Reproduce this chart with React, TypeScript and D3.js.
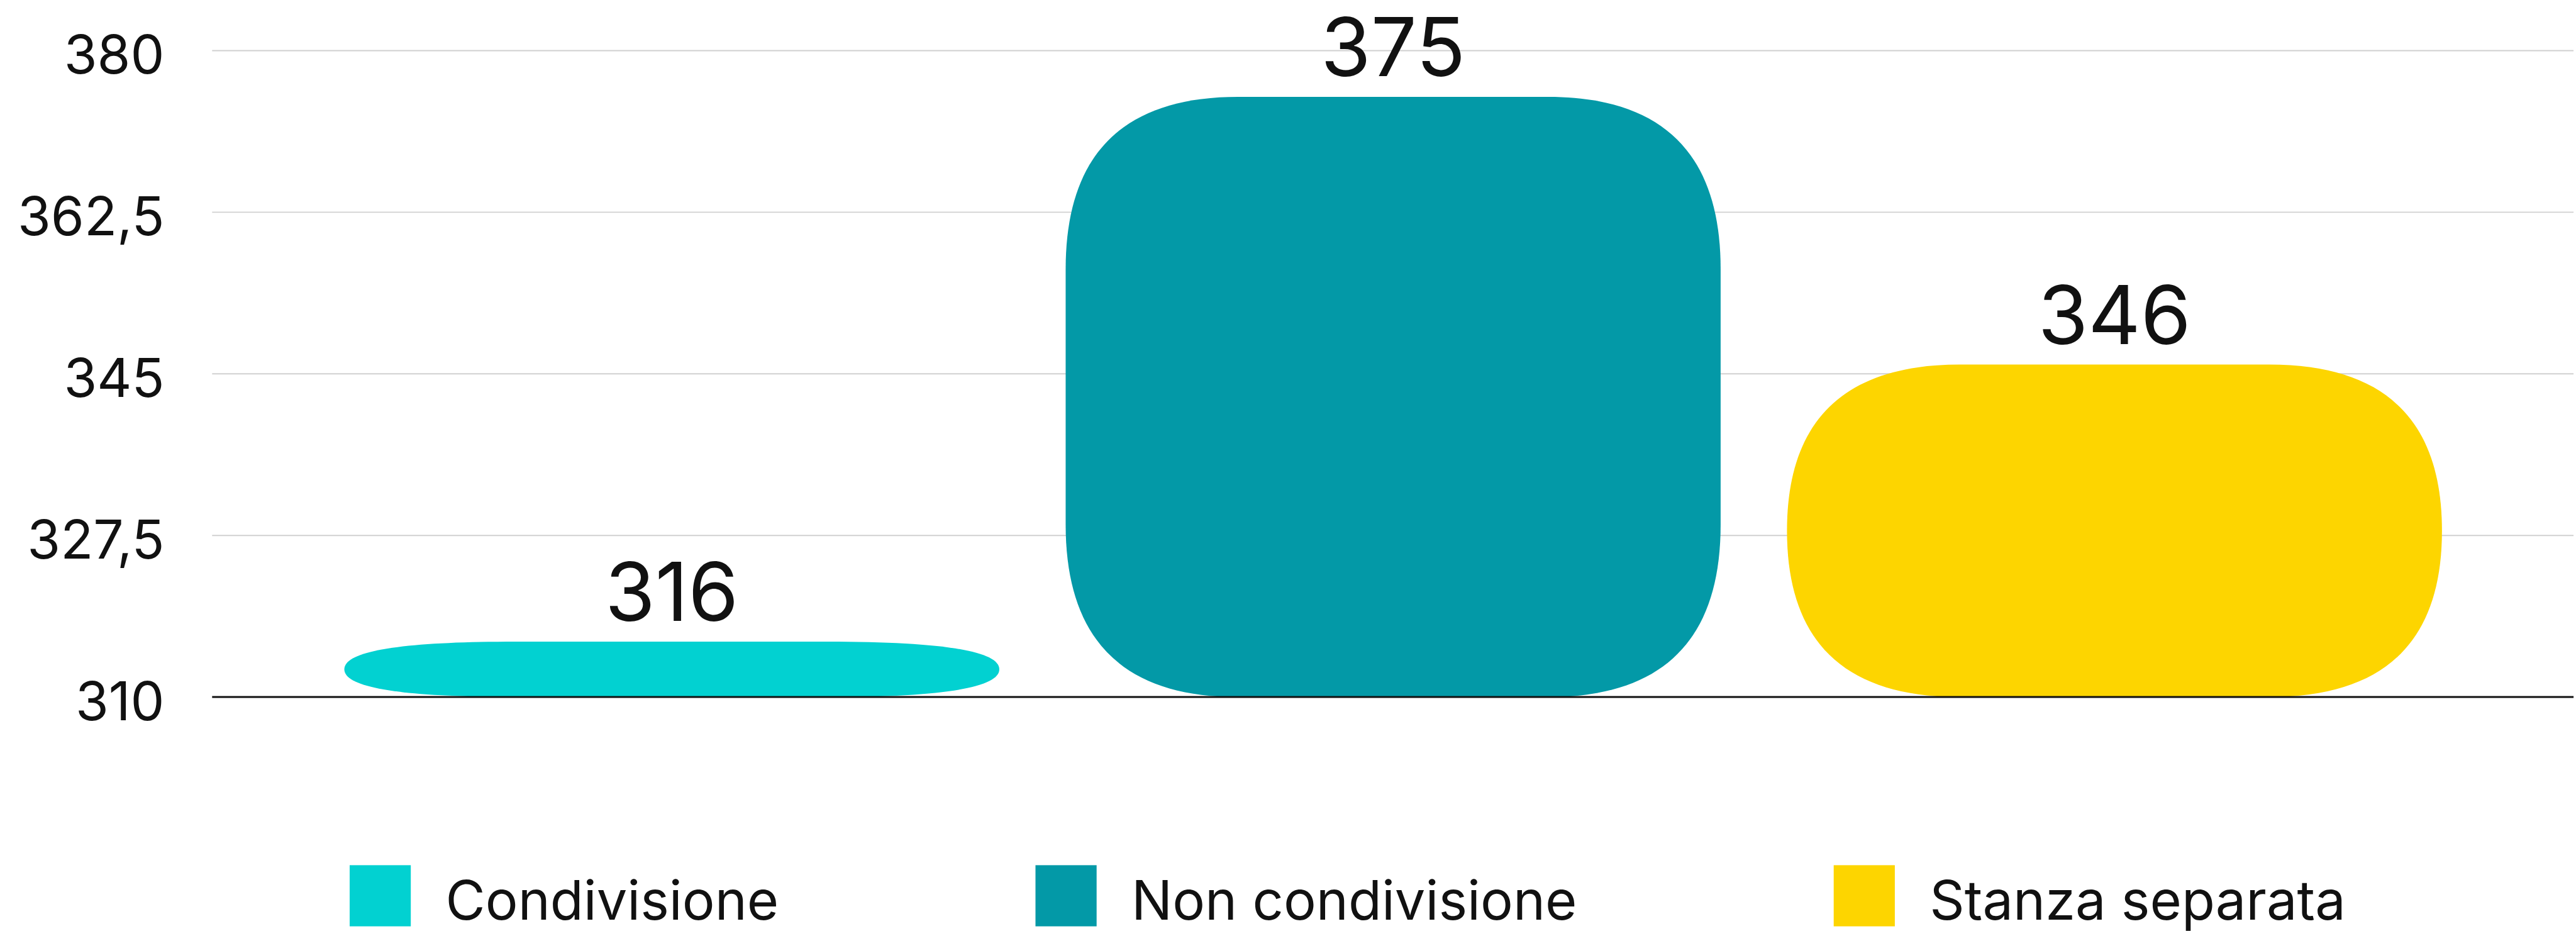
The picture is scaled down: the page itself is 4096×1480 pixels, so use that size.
import React from "react";
import * as d3 from "d3";

// chart values
const categories = ["Condivisione", "Non condivisione", "Stanza separata"];
const values = [316, 375, 346];
const colors = ["#02D1D1", "#0399A7", "#FDD500"];
const yTicks = [310, 327.5, 345, 362.5, 380];

const S = 0.972; // reference -> window
const FONT = "Inter, 'Noto Sans', sans-serif";

// rounded rect, corner radius clamped per axis (k = 2/3 -> quadratic-like corner)
function roundedBar(x: number, y: number, w: number, h: number, R: number, k: number) {
  const rx = Math.min(R, w / 2);
  const ry = Math.min(R, h / 2);
  const p = d3.path();
  p.moveTo(x + rx, y);
  p.lineTo(x + w - rx, y);
  p.bezierCurveTo(x + w - rx + rx * k, y, x + w, y + ry - ry * k, x + w, y + ry);
  p.lineTo(x + w, y + h - ry);
  p.bezierCurveTo(x + w, y + h - ry + ry * k, x + w - rx + rx * k, y + h, x + w - rx, y + h);
  p.lineTo(x + rx, y + h);
  p.bezierCurveTo(x + rx - rx * k, y + h, x, y + h - ry + ry * k, x, y + h - ry);
  p.lineTo(x, y + ry);
  p.bezierCurveTo(x, y + ry - ry * k, x + rx - rx * k, y, x + rx, y);
  p.closePath();
  return p.toString();
}

const fmt = (v: number) => d3.format("~f")(v).replace(".", ",");

function Legend() {
  const ref = React.useRef<SVGGElement>(null);

  React.useEffect(() => {
    const g = d3.select(ref.current);
    g.selectAll("*").remove();
    const box = 100;
    let x = 572;
    categories.forEach((c, i) => {
      g.append("rect")
        .attr("x", x).attr("y", 1415)
        .attr("width", box).attr("height", box)
        .attr("fill", colors[i]);
      const t = g.append("text")
        .attr("x", x + box + 57).attr("y", 1504)
        .attr("font-family", FONT)
        .attr("font-size", 89)
        .attr("fill", "#111")
        .text(c);
      const tw = (t.node() as SVGTextElement).getComputedTextLength();
      x = x + box + 57 + tw + 420;
    });
  }, []);

  return <g ref={ref} />;
}

export default function App() {
  const width = 4210;
  const height = 1521;

  const y = d3.scaleLinear().domain([310, 380]).range([1140, 82.8]);
  const x = d3.scaleBand<string>()
    .domain(categories)
    .range([509, 4049])
    .paddingInner(0.092)
    .paddingOuter(0.046);

  const gridLeft = 347;

  return (
    <div style={{ position: "absolute", left: 0, top: 0 }}>
      <svg width={4096} height={1480} style={{ display: "block", background: "#fff" }}>
        <g transform={`scale(${S})`}>
          <rect width={width} height={height} fill="#fff" />
          {yTicks.map((t) => (
            <g key={t}>
              {t !== 310 && (
                <line x1={gridLeft} x2={width} y1={y(t)} y2={y(t)} stroke="#d0d0d0" strokeWidth={2} />
              )}
              <text
                x={269}
                y={y(t) + 38}
                textAnchor="end"
                fontFamily={FONT}
                fontSize={88}
                fill="#111"
              >
                {fmt(t)}
              </text>
            </g>
          ))}
          {categories.map((c, i) => {
            const x0 = x(c) as number;
            const w = x.bandwidth();
            const top = y(values[i]);
            const h = y(310) - top;
            return (
              <g key={c}>
                <path d={roundedBar(x0, top, w, h, 282, 0.667)} fill={colors[i]} />
                <text
                  x={x0 + w / 2}
                  y={top - 34}
                  textAnchor="middle"
                  fontFamily={FONT}
                  fontSize={133}
                  fill="#111"
                >
                  {values[i]}
                </text>
              </g>
            );
          })}
          <line x1={gridLeft} x2={width} y1={y(310)} y2={y(310)} stroke="#111" strokeWidth={3} />
          <Legend />
        </g>
      </svg>
    </div>
  );
}
